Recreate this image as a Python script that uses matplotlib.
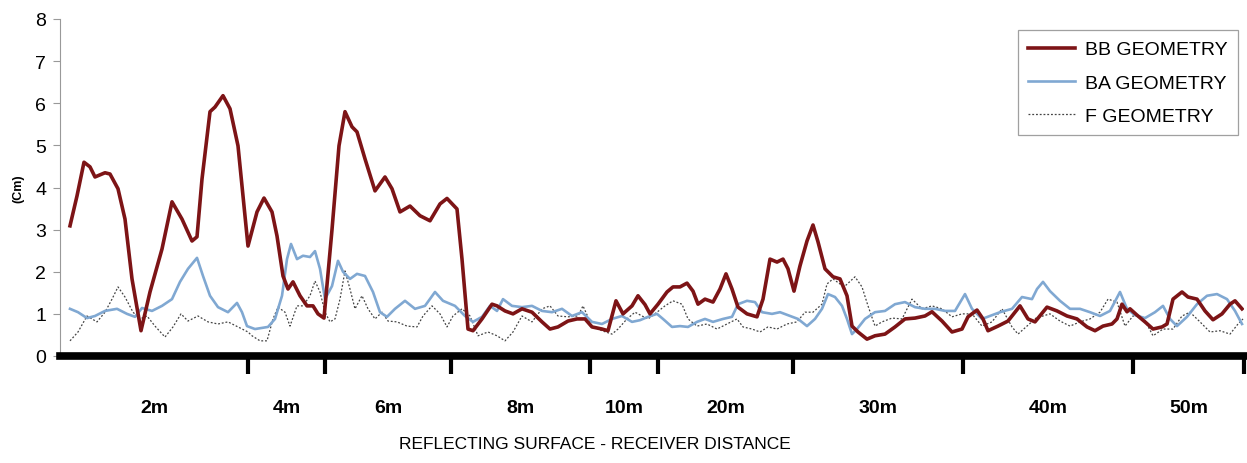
import numpy as np
import matplotlib
matplotlib.use("Agg")
import matplotlib.pyplot as plt

plt.rcParams["font.family"] = ["Liberation Sans", "DejaVu Sans"]

# segment boundaries along the record (sample index) and their labels
seg_edges = [0, 188, 265, 391, 530, 598, 733, 903, 1073, 1184]
seg_labels = ["2m", "4m", "6m", "8m", "10m", "20m", "30m", "40m", "50m"]

bb_pos = [10, 17, 24, 30, 35, 45, 50, 58, 65, 72, 81, 90, 102, 112, 122, 132, 137, 142,
          150, 155, 163, 170, 178, 183, 188, 197, 204, 212, 217, 223, 228, 233, 240, 247,
          253, 258, 264, 272, 279, 285, 292, 297, 305, 315, 325, 332, 340, 350, 360, 370,
          380, 387, 397, 402, 408, 413, 422, 432, 437, 445, 453, 462, 472, 482, 490, 498,
          508, 517, 525, 532, 542, 548, 556, 563, 572, 578, 585, 590, 598, 607, 613, 620,
          627, 633, 638, 645, 653, 660, 666, 672, 678, 687, 697, 703, 710, 717, 723, 728,
          734, 740, 747, 753, 758, 765, 773, 780, 787, 792, 798, 807, 815, 825, 835, 845,
          855, 865, 872, 882, 892, 902, 908, 917, 923, 928, 938, 948, 960, 968, 975, 987,
          997, 1007, 1017, 1027, 1035, 1043, 1052, 1057, 1062, 1067, 1070, 1077, 1085,
          1093, 1102, 1107, 1113, 1122, 1128, 1137, 1145, 1153, 1162, 1170, 1175, 1182]
bb_val = [3.09, 3.80, 4.60, 4.49, 4.25, 4.35, 4.32, 3.97, 3.25, 1.83, 0.60, 1.52, 2.54, 3.66,
          3.25, 2.73, 2.83, 4.20, 5.80, 5.91, 6.18, 5.87, 4.99, 3.80, 2.61, 3.42, 3.75, 3.42,
          2.85, 1.90, 1.59, 1.76, 1.43, 1.19, 1.19, 1.00, 0.90, 3.00, 4.99, 5.80, 5.44, 5.32,
          4.68, 3.92, 4.25, 3.97, 3.42, 3.56, 3.33, 3.21, 3.61, 3.74, 3.49, 2.30, 0.64, 0.60,
          0.88, 1.23, 1.19, 1.07, 1.00, 1.12, 1.04, 0.81, 0.64, 0.69, 0.83, 0.88, 0.88, 0.69,
          0.64, 0.60, 1.31, 1.00, 1.19, 1.43, 1.22, 1.00, 1.23, 1.52, 1.64, 1.64, 1.73, 1.54,
          1.23, 1.35, 1.28, 1.59, 1.95, 1.59, 1.16, 1.00, 0.93, 1.35, 2.30, 2.23, 2.30, 2.07,
          1.54, 2.14, 2.73, 3.11, 2.71, 2.07, 1.88, 1.83, 1.43, 0.71, 0.57, 0.40, 0.48, 0.52,
          0.69, 0.88, 0.90, 0.95, 1.05, 0.83, 0.57, 0.64, 0.93, 1.09, 0.88, 0.60, 0.71, 0.83,
          1.19, 0.88, 0.81, 1.16, 1.07, 0.95, 0.88, 0.69, 0.60, 0.71, 0.76, 0.88, 1.23, 1.05,
          1.12, 0.97, 0.81, 0.64, 0.69, 0.76, 1.35, 1.52, 1.40, 1.35, 1.07, 0.86, 1.00, 1.23,
          1.31, 1.12]

ba_pos = [10, 18, 27, 35, 45, 57, 67, 75, 82, 92, 102, 112, 120, 128, 137, 143, 150, 158,
          168, 177, 182, 187, 195, 200, 208, 215, 222, 227, 231, 237, 243, 250, 255, 260,
          265, 272, 278, 283, 290, 297, 305, 313, 320, 327, 335, 345, 355, 365, 375, 383,
          390, 395, 405, 413, 422, 430, 437, 443, 452, 462, 472, 482, 492, 502, 512, 522,
          532, 542, 552, 562, 572, 580, 588, 597, 603, 612, 620, 628, 637, 645, 653, 663,
          672, 678, 687, 695, 702, 712, 720, 730, 738, 747, 755, 762, 768, 775, 782, 787,
          792, 797, 805, 815, 825, 835, 845, 855, 865, 875, 885, 895, 905, 912, 922, 930,
          940, 952, 962, 972, 977, 983, 990, 1000, 1010, 1020, 1030, 1040, 1050, 1060,
          1067, 1075, 1085, 1095, 1103, 1110, 1117, 1127, 1137, 1147, 1157, 1167, 1175, 1182]
ba_val = [1.12, 1.04, 0.90, 0.95, 1.07, 1.12, 1.00, 0.93, 1.14, 1.07, 1.19, 1.35, 1.76, 2.07,
          2.33, 1.90, 1.43, 1.16, 1.04, 1.26, 1.04, 0.71, 0.64, 0.66, 0.69, 0.88, 1.43, 2.30,
          2.66, 2.30, 2.38, 2.35, 2.49, 2.07, 1.35, 1.66, 2.26, 2.00, 1.83, 1.95, 1.90, 1.52,
          1.04, 0.93, 1.12, 1.31, 1.12, 1.19, 1.52, 1.31, 1.24, 1.19, 0.95, 0.81, 0.93, 1.19,
          1.07, 1.35, 1.19, 1.16, 1.19, 1.07, 1.04, 1.12, 0.95, 1.04, 0.81, 0.76, 0.88, 0.95,
          0.81, 0.85, 0.93, 1.00, 0.88, 0.69, 0.71, 0.69, 0.81, 0.88, 0.81, 0.88, 0.93, 1.23,
          1.31, 1.28, 1.04, 1.00, 1.04, 0.95, 0.88, 0.71, 0.88, 1.12, 1.47, 1.40, 1.19, 0.88,
          0.52, 0.64, 0.88, 1.04, 1.07, 1.23, 1.28, 1.16, 1.12, 1.12, 1.07, 1.07, 1.47, 1.12,
          0.88, 0.95, 1.04, 1.12, 1.40, 1.35, 1.59, 1.76, 1.54, 1.31, 1.12, 1.12, 1.04, 0.95,
          1.07, 1.52, 1.12, 0.97, 0.90, 1.04, 1.19, 0.88, 0.71, 0.93, 1.23, 1.43, 1.47, 1.35,
          1.07, 0.76]

f_pos = [10, 18, 27, 37, 45, 52, 58, 65, 73, 80, 87, 95, 105, 113, 121, 128, 138, 148, 158,
         168, 178, 188, 192, 200, 207, 213, 218, 225, 230, 237, 243, 250, 255, 260, 265, 270,
         275, 280, 285, 290, 295, 302, 308, 315, 322, 328, 337, 347, 357, 363, 372, 380, 387,
         393, 402, 410, 418, 428, 437, 445, 453, 462, 472, 482, 490, 498, 508, 518, 523, 532,
         542, 552, 558, 567, 575, 582, 588, 597, 605, 613, 622, 628, 637, 647, 657, 667, 677,
         683, 692, 700, 708, 717, 727, 737, 745, 753, 762, 767, 773, 780, 785, 795, 802, 808,
         815, 822, 832, 842, 852, 862, 872, 882, 892, 902, 912, 922, 932, 942, 952, 958, 967,
         976, 990, 1000, 1010, 1020, 1030, 1040, 1048, 1057, 1065, 1073, 1083, 1093, 1103,
         1113, 1122, 1130, 1140, 1150, 1160, 1170, 1178, 1183]
f_val = [0.36, 0.57, 0.95, 0.81, 1.04, 1.35, 1.64, 1.40, 1.04, 0.88, 0.95, 0.71, 0.45, 0.69,
         1.00, 0.83, 0.95, 0.81, 0.76, 0.81, 0.69, 0.57, 0.48, 0.36, 0.36, 0.88, 1.16, 1.04,
         0.71, 1.19, 1.19, 1.43, 1.78, 1.52, 1.04, 0.81, 0.88, 1.35, 2.02, 1.59, 1.12, 1.43,
         1.12, 0.88, 1.04, 0.83, 0.81, 0.71, 0.69, 0.95, 1.19, 1.00, 0.69, 0.95, 1.12, 0.95,
         0.48, 0.57, 0.48, 0.36, 0.57, 0.95, 0.81, 1.12, 1.19, 0.95, 0.93, 0.95, 1.19, 0.71,
         0.60, 0.52, 0.64, 0.88, 1.04, 0.95, 0.88, 1.04, 1.19, 1.31, 1.23, 0.88, 0.71, 0.76,
         0.64, 0.76, 0.88, 0.69, 0.64, 0.57, 0.69, 0.64, 0.76, 0.81, 1.04, 1.04, 1.23, 1.71,
         1.83, 1.71, 1.66, 1.88, 1.64, 1.19, 0.71, 0.81, 0.90, 0.88, 1.35, 1.12, 1.19, 1.12,
         0.93, 1.00, 1.00, 0.71, 0.81, 1.12, 0.69, 0.52, 0.71, 0.90, 1.00, 0.83, 0.71, 0.81,
         0.88, 1.04, 1.35, 1.28, 0.71, 0.95, 0.93, 0.48, 0.64, 0.64, 0.95, 1.04, 0.81, 0.57,
         0.60, 0.52, 0.76, 0.88]

W, H = 1247, 464
fig = plt.figure(figsize=(W / 100, H / 100), dpi=100)
ax = fig.add_axes([60 / W, 107 / H, 1184 / W, 337 / H])

ax.plot(bb_pos, bb_val, color="#7d1416", lw=2.6, label="BB GEOMETRY", zorder=3)
ax.plot(ba_pos, ba_val, color="#80a8d2", lw=1.9, label="BA GEOMETRY", zorder=2)
ax.plot(f_pos, f_val, color="#444444", lw=0.9, ls=(0, (1.5, 1.5)), label="F GEOMETRY", zorder=1)

ax.set_xlim(seg_edges[0], seg_edges[-1])
ax.set_ylim(0, 8)

for side in ("top", "right"):
    ax.spines[side].set_visible(False)
ax.spines["left"].set_color("#999999")
ax.spines["left"].set_linewidth(0.8)
ax.spines["bottom"].set_color("black")
ax.spines["bottom"].set_linewidth(5.5)

ax.set_yticks(range(0, 9))
ax.tick_params(axis="y", direction="out", length=5, width=0.8, color="#999999",
               labelsize=14, pad=5)

ax.set_xticks(seg_edges[1:])
ax.tick_params(axis="x", direction="out", length=13, width=3, color="black", labelbottom=False)

mids = [(a + b) / 2 for a, b in zip(seg_edges[:-1], seg_edges[1:])]
for m, lab in zip(mids, seg_labels):
    ax.text(m, -0.152, lab, transform=ax.get_xaxis_transform(), ha="center", va="center",
            fontsize=14, fontweight="bold")

ax.set_ylabel("(Cm)", fontsize=9, fontweight="bold", labelpad=8)

fig.text(595 / W, 19 / H, "REFLECTING SURFACE - RECEIVER DISTANCE", ha="center",
         va="center", fontsize=12.5)

leg = ax.legend(loc="upper right", bbox_to_anchor=(0.995, 0.967), borderaxespad=0,
                fontsize=14, frameon=True, fancybox=False, edgecolor="#888888",
                handlelength=2.4, handletextpad=0.5, labelspacing=0.8, borderpad=0.55)
leg.get_frame().set_linewidth(0.9)

fig.savefig("out.png", dpi=100, facecolor="white")
